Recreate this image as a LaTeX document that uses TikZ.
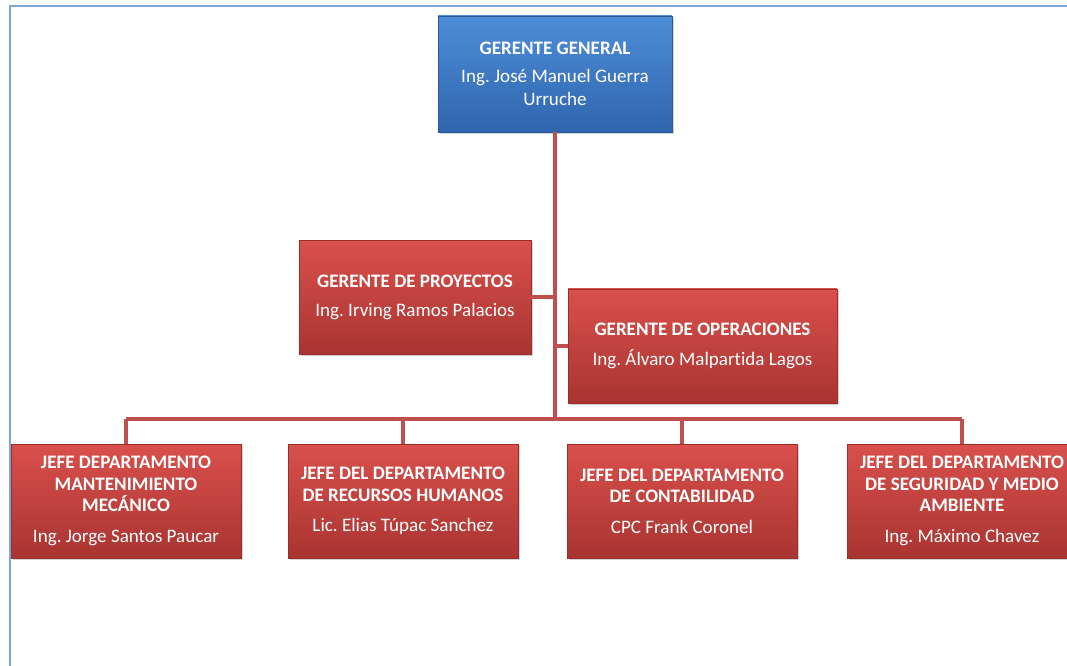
\documentclass[tikz,border=0pt]{standalone}
\usepackage{fontspec}
\setmainfont{Carlito}[Ligatures=NoCommon]
\usetikzlibrary{shadows}
\usetikzlibrary{calc}

\definecolor{azulclaro}{HTML}{4F8DD8}
\definecolor{azuloscuro}{HTML}{2F65AE}
\definecolor{azulborde}{HTML}{2A5A9C}
\definecolor{rojoclaro}{HTML}{D9504C}
\definecolor{rojooscuro}{HTML}{A93431}
\definecolor{rojoborde}{HTML}{9A2E2B}
\definecolor{lineacolor}{HTML}{C0504D}
\definecolor{marco}{HTML}{7FA6DA}

\frenchspacing

\begin{document}
\begin{tikzpicture}[x=0.75pt,y=-0.75pt,
        cargo/.style={rectangle,inner sep=0pt,align=center,text=white,
                font=\fontsize{14.3}{16}\selectfont,
                drop shadow={shadow xshift=1.5pt,shadow yshift=-1.5pt,opacity=0.35}},
        azul/.style={cargo,top color=azulclaro,bottom color=azuloscuro,draw=azulborde,
                minimum width=175.5pt,minimum height=87pt},
        rojo/.style={cargo,top color=rojoclaro,bottom color=rojooscuro,draw=rojoborde,
                minimum height=85.5pt},
        jefe/.style={rojo,minimum width=172.5pt},
        linea/.style={draw=lineacolor,line width=3pt}]
                \useasboundingbox (0,0) rectangle (1067,666);
                \draw[marco,line width=1.5pt] (9.5,666) -- (9.5,6) -- (1067,6);

                \node[azul] (gg) at (555,74) {\textbf{GERENTE GENERAL}\\[5pt] Ing.\ José Manuel Guerra\\[1.5pt] Urruche};
                \node[rojo,minimum width=174pt] (proy) at (415,297.5) {\textbf{GERENTE DE PROYECTOS}\\[6pt] Ing.\ Irving Ramos Palacios};
                \node[rojo,minimum width=201.75pt] (oper) at (702.5,346) {\textbf{GERENTE DE OPERACIONES}\\[6pt] Ing.\ Álvaro Malpartida Lagos};

                \node[jefe] (mant) at (126,501) {\textbf{JEFE DEPARTAMENTO}\\ \textbf{MANTENIMIENTO}\\ \textbf{MECÁNICO}\\[7pt] Ing.\ Jorge Santos Paucar};
                \node[jefe] (rrhh) at (403,501) {\textbf{JEFE DEL DEPARTAMENTO}\\ \textbf{DE RECURSOS HUMANOS}\\[7pt] Lic.\ Elias Túpac Sanchez};
                \node[jefe] (cont) at (682,501) {\textbf{JEFE DEL DEPARTAMENTO}\\ \textbf{DE CONTABILIDAD}\\[7pt] CPC Frank Coronel};
                \node[jefe] (segu) at (962,501) {\textbf{JEFE DEL DEPARTAMENTO}\\ \textbf{DE SEGURIDAD Y MEDIO}\\ \textbf{AMBIENTE}\\[7pt] Ing.\ Máximo Chavez};

                \coordinate (bus) at (555,419);

                \draw[linea] (gg.south) -- (gg.south |- bus);
                \draw[linea] (proy.east) -- (proy.east -| gg.south);
                \draw[linea] (oper.west) -- (oper.west -| gg.south);
                \draw[linea] (mant.north |- bus) -- (segu.north |- bus);
                \foreach \j in {mant,rrhh,cont,segu}
                    \draw[linea] (\j.north) -- (\j.north |- bus);
            \end{tikzpicture}
\end{document}
